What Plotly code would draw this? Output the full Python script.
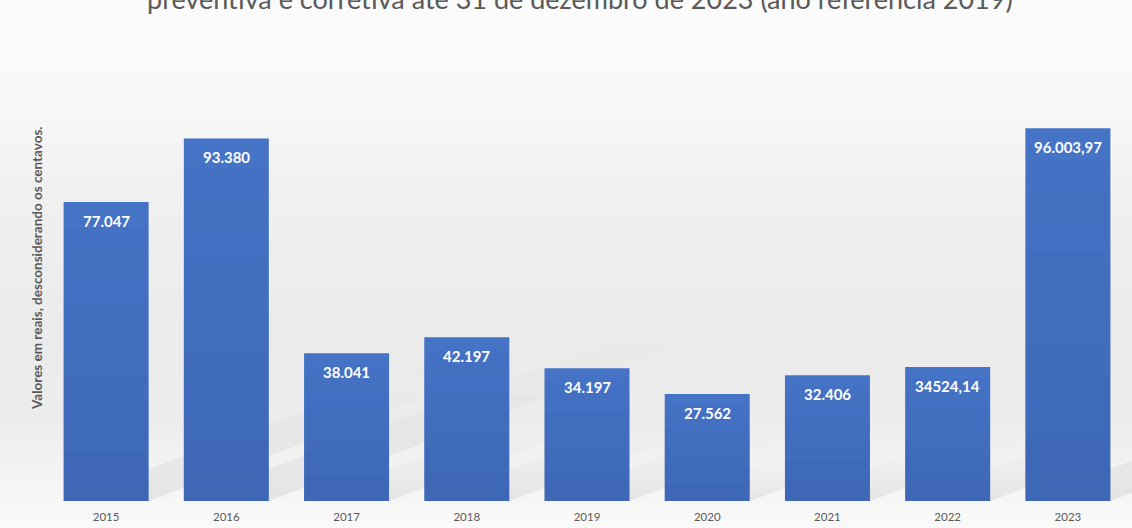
import plotly.graph_objects as go

# ---- data ----
years = ["2015", "2016", "2017", "2018", "2019", "2020", "2021", "2022", "2023"]
values = [77047, 93380, 38041, 42197, 34197, 27562, 32406, 34524.14, 96003.97]
value_labels = ["77.047", "93.380", "38.041", "42.197", "34.197", "27.562",
                "32.406", "34524,14", "96.003,97"]
title_text = "preventiva e corretiva até 31 de dezembro de 2023 (ano referência 2019)"
y_title = "Valores em reais, desconsiderando os centavos."

# ---- layout geometry ----
W_FIG, H_FIG = 1132, 528
M_L, M_R, M_T, M_B = 46, 4, 60, 27
PW = W_FIG - M_L - M_R
PH = H_FIG - M_T - M_B
Y_MAX = 113600
BARGAP = 0.293


def px_to_paper(px, py):
    return (px - M_L) / PW, (H_FIG - M_B - py) / PH


shapes = []
# background gradient (decorative)
stops = [(0, 251), (90, 249), (200, 240), (330, 235), (420, 236), (470, 243), (528, 250)]
step = 4
for y0 in range(0, H_FIG, step):
    y1 = y0 + step
    ym = (y0 + y1) / 2
    c = 250
    for (a, ca), (b, cb) in zip(stops[:-1], stops[1:]):
        if a <= ym <= b:
            t = (ym - a) / (b - a)
            c = int(round(ca + (cb - ca) * t))
            break
    _, p0 = px_to_paper(0, y1)
    _, p1 = px_to_paper(0, y0)
    shapes.append(dict(type="rect", xref="paper", yref="paper",
                       x0=-(M_L + 20) / PW, x1=1 + (M_R + 20) / PW, y0=p0, y1=p1,
                       fillcolor=f"rgb({c},{c},{c})", line=dict(width=0), layer="below"))

# soft cast shadows derived from bars (decorative)
slot = PW / len(years)
bw = slot * (1 - BARGAP)
n_seg = 14
base = H_FIG - M_B
for i, v in enumerate(values):
    cx = M_L + slot * (i + 0.5)
    x0, x1 = cx - bw / 2, cx + bw / 2
    h = v / Y_MAX * PH
    dx, dy = 1.2 * h, 0.45 * h
    for s in range(n_seg):
        f0, f1 = s / n_seg, (s + 1) / n_seg
        pts = [(x0 + dx * f0, base - dy * f0), (x1 + dx * f0, base - dy * f0),
               (x1 + dx * f1, base - dy * f1), (x0 + dx * f1, base - dy * f1)]
        pp = [px_to_paper(px, py) for px, py in pts]
        path = "M " + " L ".join(f"{a:.5f},{b:.5f}" for a, b in pp) + " Z"
        op = 0.11 * (1 - f0) ** 1.6
        shapes.append(dict(type="path", xref="paper", yref="paper", path=path,
                           fillcolor=f"rgba(90,90,90,{op:.3f})", line=dict(width=0),
                           layer="below"))

# subtle vertical shading on the bars (decorative)
n_band = 12
for i, v in enumerate(values):
    for s in range(n_band):
        f0, f1 = s / n_band, (s + 1) / n_band
        op = 0.16 * f0
        shapes.append(dict(type="rect", xref="x", yref="y",
                           x0=i - (1 - BARGAP) / 2, x1=i + (1 - BARGAP) / 2,
                           y0=v * (1 - f1), y1=v * (1 - f0),
                           fillcolor=f"rgba(20,40,90,{op:.3f})", line=dict(width=0),
                           layer="above"))

fig = go.Figure()
fig.add_trace(go.Bar(
    x=years, y=values,
    marker=dict(color="#4573c6", line=dict(width=0)),
    hoverinfo="x+y",
))

annotations = [
    dict(text=title_text, xref="paper", yref="paper",
         x=px_to_paper(580, 0)[0], y=px_to_paper(0, -1)[1], xanchor="center", yanchor="middle",
         showarrow=False, font=dict(family="Lato", size=27, color="#595959")),
    dict(text=y_title, xref="paper", yref="paper",
         x=px_to_paper(37, 0)[0], y=px_to_paper(0, 268)[1], xanchor="center", yanchor="middle",
         textangle=-90, showarrow=False,
         font=dict(family="Lato", size=13.5, color="#595959", weight="bold")),
]
for i, (v, lab) in enumerate(zip(values, value_labels)):
    # category index i on the category x axis
    annotations.append(dict(x=i, y=v, xref="x", yref="y", text=lab, showarrow=False,
                            yanchor="middle", yshift=-19,
                            font=dict(family="Lato", size=15, color="white", weight="bold")))

fig.update_layout(
    width=W_FIG, height=H_FIG,
    margin=dict(l=M_L, r=M_R, t=M_T, b=M_B),
    paper_bgcolor="white", plot_bgcolor="rgba(0,0,0,0)",
    bargap=BARGAP, showlegend=False,
    shapes=shapes,
    annotations=annotations,
    xaxis=dict(type="category", range=[-0.5, len(years) - 0.5],
               showgrid=False, zeroline=False, showline=False, ticks="",
               ticklabelstandoff=7,
               tickfont=dict(family="Lato", size=11.5, color="#595959")),
    yaxis=dict(range=[0, Y_MAX], showgrid=False, zeroline=False, showline=False,
               showticklabels=False, ticks=""),
)

fig.write_html("out.html", config={"displayModeBar": False},
               post_script="document.body.style.margin='0';document.body.style.overflow='hidden';")
